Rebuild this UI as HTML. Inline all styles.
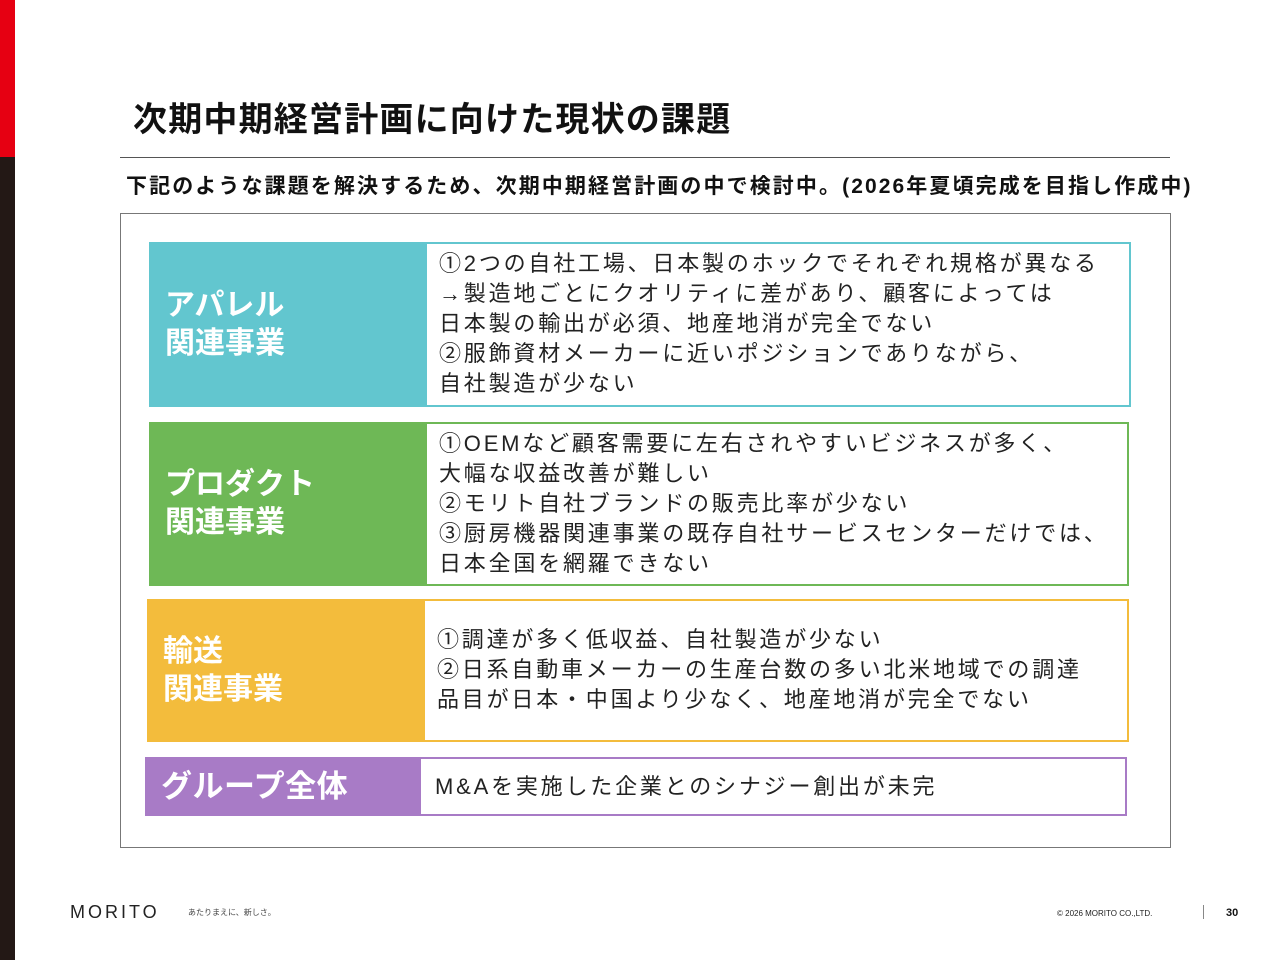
<!DOCTYPE html><html><head><meta charset="utf-8"><style>
*{margin:0;padding:0;box-sizing:border-box}
body{width:1280px;height:960px;position:relative;background:#fff;font-family:"Liberation Sans","Noto Sans CJK JP",sans-serif;overflow:hidden;color:#111}
.a{position:absolute}
.row{position:absolute;border:2px solid;}
.lab{position:absolute;left:0;top:0;bottom:0;color:#fff;font-weight:bold;font-size:30px;line-height:38px;display:flex;align-items:center;padding-left:14px}
.txt{position:absolute;font-size:22px;line-height:30px;letter-spacing:2.8px;color:#222;white-space:nowrap}
</style></head><body>
<div class="a" style="left:0;top:0;width:15px;height:157px;background:#e60012"></div>
<div class="a" style="left:0;top:157px;width:15px;height:803px;background:#231815"></div>
<div class="a" style="left:133px;top:98px;font-size:34px;font-weight:bold;line-height:44px;letter-spacing:1.2px">次期中期経営計画に向けた現状の課題</div>
<div class="a" style="left:120px;top:157px;width:1050px;height:1px;background:#555"></div>
<div class="a" style="left:126px;top:172px;font-size:21px;font-weight:bold;line-height:30px;letter-spacing:2.1px">下記のような課題を解決するため、次期中期経営計画の中で検討中。(2026年夏頃完成を目指し作成中)</div>
<div class="a" style="left:120px;top:213px;width:1051px;height:635px;border:1px solid #777"></div>

<div class="row" style="left:149px;top:242px;width:982px;height:165px;border-color:#62c6cf">
<div class="lab" style="width:276px;background:#62c6cf">アパレル<br>関連事業</div>
<div class="txt" style="left:288px;top:5px">①2つの自社工場、日本製のホックでそれぞれ規格が異なる<br>→製造地ごとにクオリティに差があり、顧客によっては<br>日本製の輸出が必須、地産地消が完全でない<br>②服飾資材メーカーに近いポジションでありながら、<br>自社製造が少ない</div></div>

<div class="row" style="left:149px;top:422px;width:980px;height:164px;border-color:#6eb856">
<div class="lab" style="width:276px;background:#6eb856">プロダクト<br>関連事業</div>
<div class="txt" style="left:288px;top:5px">①OEMなど顧客需要に左右されやすいビジネスが多く、<br>大幅な収益改善が難しい<br>②モリト自社ブランドの販売比率が少ない<br>③厨房機器関連事業の既存自社サービスセンターだけでは、<br>日本全国を網羅できない</div></div>

<div class="row" style="left:147px;top:599px;width:982px;height:143px;border-color:#f3bc3c">
<div class="lab" style="width:276px;background:#f3bc3c">輸送<br>関連事業</div>
<div class="txt" style="left:288px;top:24px">①調達が多く低収益、自社製造が少ない<br>②日系自動車メーカーの生産台数の多い北米地域での調達<br>品目が日本・中国より少なく、地産地消が完全でない</div></div>

<div class="row" style="left:145px;top:757px;width:982px;height:59px;border-color:#a87bc6">
<div class="lab" style="width:274px;background:#a87bc6;font-size:31px;letter-spacing:0.5px">グループ全体</div>
<div class="txt" style="left:288px;top:13px">M&amp;Aを実施した企業とのシナジー創出が未完</div></div>

<div class="a" style="left:70px;top:902px;font-size:18px;letter-spacing:3px;color:#222">MORITO</div>
<div class="a" style="left:188px;top:907px;font-size:8px;color:#444">あたりまえに、新しさ。</div>
<div class="a" style="left:1057px;top:909px;font-size:8px;color:#222">© 2026 MORITO CO.,LTD.</div>
<div class="a" style="left:1203px;top:905px;width:1px;height:14px;background:#888"></div>
<div class="a" style="left:1226px;top:907px;font-size:11px;font-weight:bold">30</div>
</body></html>
